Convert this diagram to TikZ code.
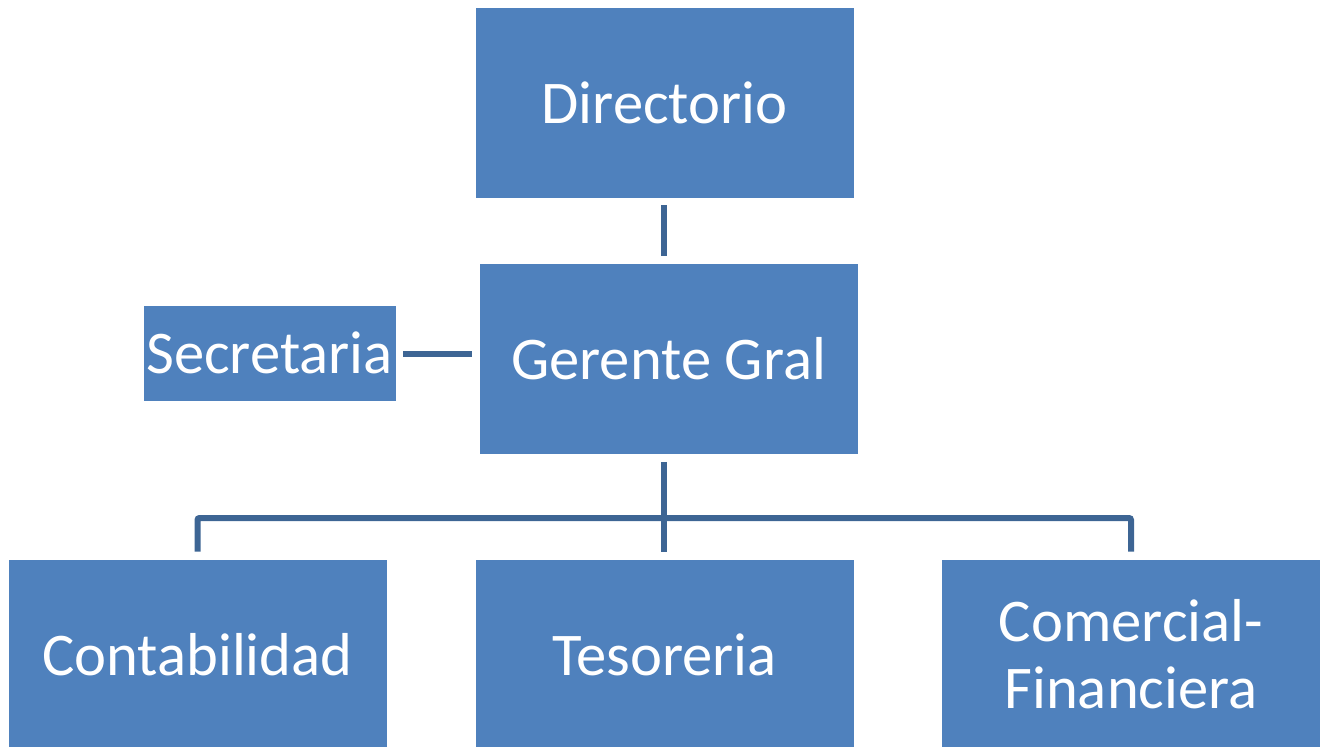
\documentclass[tikz,border=0pt]{standalone}
\usepackage{fontspec}
\setmainfont{Carlito}
\usepackage{tikz}
\usetikzlibrary{positioning}
\definecolor{boxblue}{HTML}{4F81BD}
\definecolor{lineblue}{HTML}{3D6594}
\tikzset {
    style box/.style={
        fill=boxblue,
        draw=boxblue,
        text=white,
        rectangle, % Set the shape as a rectangle
        minimum width=7.54cm,
        minimum height=3.78cm,
        align=center,
        font=\fontsize{34.5}{38}\selectfont,
    },
    style small/.style={
        style box,
        minimum width=5.02cm,
        minimum height=1.88cm,
        inner sep=0pt,
    },
    style line/.style={
        draw=lineblue,
        line width=0.12cm,
        shorten >=0.16cm,
        shorten <=0.16cm,
    },
}
\begin{document}
\begin{tikzpicture}[x=0.02cm, y=-0.02cm]
\clip (0,0) rectangle (1322,747);

\node[style box] at (664.5, 102.5) (dir) {Directorio};
\node[style box] at (668.5, 359) (ger) {Gerente Gral};
\node[style small] at (269.5, 353) (sec) {Secretaria};

\node[style box] at (197.5, 654.5) (cont) {Contabilidad};
\node[style box] at (664.5, 654.5) (tes) {Tesoreria};
\node[style box] at (1131, 654.5) (com) {Comercial-\\Financiera};

\coordinate (bus) at (664, 518);

\draw[style line] (dir.south -| bus) -- (ger.north -| bus);
\draw[style line] (sec.east |- 0,354) -- (ger.west |- 0,354);
\draw[style line] (ger.south -| bus) -- (tes.north -| bus);
\draw[style line, rounded corners=0.04cm] (cont.north) -- (cont.north |- bus) -- (com.north |- bus) -- (com.north);
\end{tikzpicture}
\end{document}
